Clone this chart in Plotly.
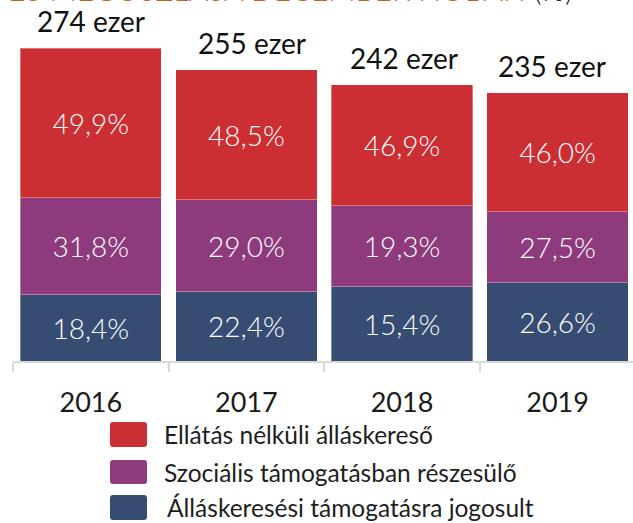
import plotly.graph_objects as go

# ---- data (thousands of people) ----
years = ["2016", "2017", "2018", "2019"]
jogosult = [58.2, 60.5, 65.2, 68.7]        # Álláskeresési támogatásra jogosult
szocialis = [85.0, 81.0, 71.0, 62.2]       # Szociális támogatásban részesülő
ellatas = [130.8, 113.9, 106.0, 104.3]     # Ellátás nélküli álláskereső

jogosult_lbl = ["18,4%", "22,4%", "15,4%", "26,6%"]
szocialis_lbl = ["31,8%", "29,0%", "19,3%", "27,5%"]
ellatas_lbl = ["49,9%", "48,5%", "46,9%", "46,0%"]
total_lbl = ["274 ezer", "255 ezer", "242 ezer", "235 ezer"]

series_names = ["Ellátás nélküli álláskereső",
                "Szociális támogatásban részesülő",
                "Álláskeresési támogatásra jogosult"]

RED = "#CB2E33"
PURPLE = "#8E3B7D"
BLUE = "#374C72"
FONT = "Lato"

W, H = 633, 523
ML, MR, MT, MB = 13, 0, 0, 162
PW, PH = W - ML - MR, H - MT - MB

fig = go.Figure()
for vals, lbls, col, name in [(jogosult, jogosult_lbl, BLUE, series_names[2]),
                              (szocialis, szocialis_lbl, PURPLE, series_names[1]),
                              (ellatas, ellatas_lbl, RED, series_names[0])]:
    fig.add_trace(go.Bar(
        x=years, y=vals, name=name, text=lbls,
        marker=dict(color=col, line=dict(color="rgba(255,255,255,0.35)", width=1)),
        textposition="inside", insidetextanchor="middle", textangle=0,
        constraintext="none",
        textfont=dict(family=FONT, size=28, color="white", weight=300),
        hoverinfo="skip", showlegend=False))

totals = [a + b + c for a, b, c in zip(jogosult, szocialis, ellatas)]
label_dx = [0, 6, 2, -6]   # small horizontal nudges of the total labels (px)
annotations = []
for i, (t, lbl) in enumerate(zip(totals, total_lbl)):
    annotations.append(dict(x=i, y=t, xref="x", yref="y", text=lbl, showarrow=False,
                            yanchor="bottom", yshift=8, xshift=label_dx[i],
                            font=dict(family=FONT, size=28, color="#111111")))

# cut-off title at top
annotations.append(dict(xref="paper", yref="paper", x=0, y=1, xanchor="left", yanchor="middle",
                        xshift=-7, yshift=11, showarrow=False,
                        text="ÉS MEGOSZLÁSA DECEMBER HÓBAN <span style='color:#262626'>(%)</span>",
                        font=dict(family=FONT, size=30, color="#C65F22", weight=300)))

# custom legend
def px2paper(px, py):
    return (px - ML) / PW, (MT + PH - py) / PH

def rounded(x0, y0, x1, y1, r):
    def P(x, y):
        a, b = px2paper(x, y)
        return f"{a:.5f},{b:.5f}"
    return (f"M {P(x0 + r, y0)} L {P(x1 - r, y0)} Q {P(x1, y0)} {P(x1, y0 + r)} "
            f"L {P(x1, y1 - r)} Q {P(x1, y1)} {P(x1 - r, y1)} L {P(x0 + r, y1)} "
            f"Q {P(x0, y1)} {P(x0, y1 - r)} L {P(x0, y0 + r)} Q {P(x0, y0)} {P(x0 + r, y0)} Z")

shapes = []
rows = [(422, 447, RED, series_names[0], 162),
        (460, 484, PURPLE, series_names[1], 162),
        (495, 520, BLUE, series_names[2], 165)]
for y0, y1, col, name, tx in rows:
    shapes.append(dict(type="path", xref="paper", yref="paper", path=rounded(110, y0, 147, y1, 3),
                       fillcolor=col, line=dict(width=0)))
    xp, yp = px2paper(tx, (y0 + y1) / 2)
    annotations.append(dict(xref="paper", yref="paper", x=xp, y=yp, xanchor="left", yanchor="middle",
                            showarrow=False, text=name,
                            font=dict(family=FONT, size=24.5, color="#1e1e1e")))

span = PW / 155.6
fig.update_layout(
    width=W, height=H, margin=dict(l=ML, r=MR, t=MT, b=MB),
    barmode="stack", bargap=0.092,
    plot_bgcolor="white", paper_bgcolor="white",
    font=dict(family=FONT),
    xaxis=dict(type="category", range=[-0.5, -0.5 + span], tickson="boundaries",
               ticks="outside", ticklen=9, tickwidth=2, tickcolor="#d9d9d9",
               showline=True, linecolor="#d9d9d9", linewidth=2, showgrid=False,
               tickfont=dict(family=FONT, size=27, color="#1a1a1a"),
               ticklabelstandoff=17, fixedrange=True),
    yaxis=dict(visible=False, range=[0, PH / 1.1412], fixedrange=True),
    annotations=annotations, shapes=shapes, showlegend=False,
)

fig.write_html("out.html", config={"displayModeBar": False},
               post_script="document.body.style.margin='0px';")
